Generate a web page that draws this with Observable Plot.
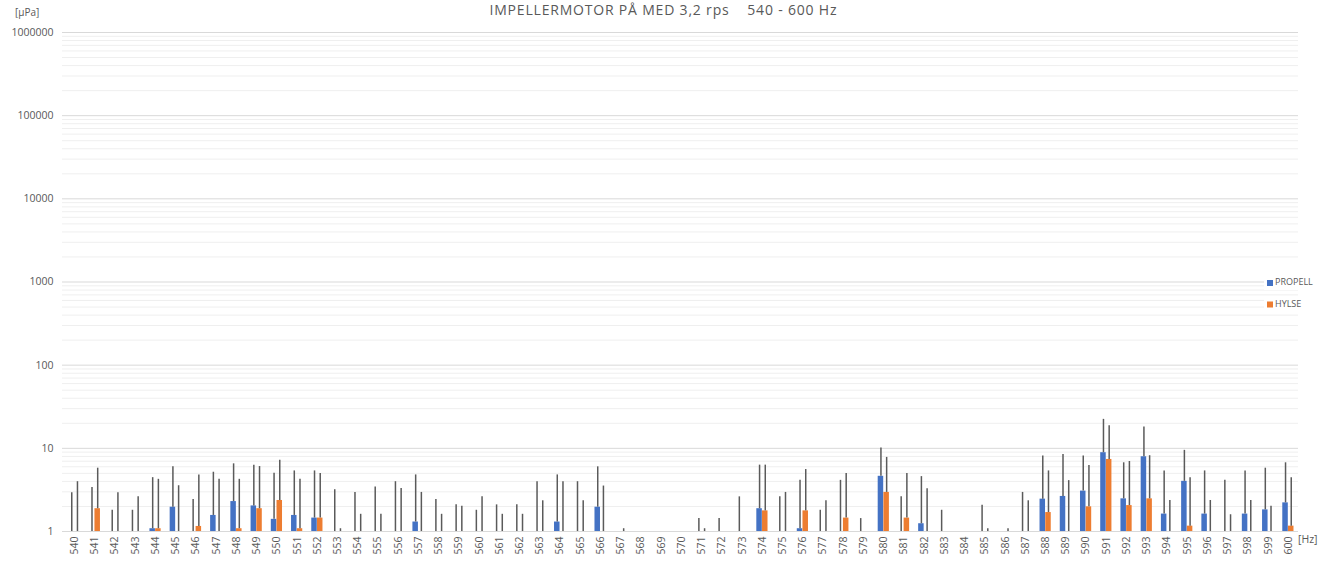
<!DOCTYPE html>
<html><head><meta charset="utf-8">
<script src="https://cdn.jsdelivr.net/npm/d3@7"></script>
<script src="https://cdn.jsdelivr.net/npm/@observablehq/plot@0.6"></script>
<style>body{margin:0;background:#fff}#chart{width:1335px;height:563px}</style>
</head><body><div id="chart"></div>
<script>
const freqs = [540,541,542,543,544,545,546,547,548,549,550,551,552,553,554,555,556,557,558,559,560,561,562,563,564,565,566,567,568,569,570,571,572,573,574,575,576,577,578,579,580,581,582,583,584,585,586,587,588,589,590,591,592,593,594,595,596,597,598,599,600];
// PROPELL bar values (null = no bar)
const propell = [null,null,null,null,1.08,1.96,null,1.56,2.29,2.03,1.40,1.56,1.45,null,null,null,null,1.30,null,null,null,null,null,null,1.30,null,1.96,null,null,null,null,null,null,null,1.88,null,1.08,null,null,null,4.61,null,1.24,null,null,null,null,null,2.45,2.64,3.06,8.86,2.47,7.92,1.62,4.01,1.62,null,1.62,1.82,2.21];
// PROPELL upper whisker values
const propellTop = [2.92,3.39,1.8,1.8,4.44,5.99,2.42,5.16,6.51,6.28,5.02,5.35,5.35,3.18,2.95,3.42,3.97,4.79,2.42,2.09,1.8,2.09,2.09,3.97,4.79,3.97,5.99,null,null,null,null,1.43,1.43,2.61,6.28,2.61,4.12,1.8,4.12,1.43,10.1,2.61,4.57,1.8,null,2.07,null,2.95,8.07,8.45,8.07,22.3,6.7,18.0,5.35,9.46,5.35,4.12,5.35,5.77,6.7];
// HYLSE bar values
const hylse = [null,1.88,null,null,1.08,null,1.15,null,1.08,1.88,2.36,1.08,1.45,null,null,null,null,null,null,null,null,null,null,null,null,null,null,null,null,null,null,null,null,null,1.77,null,1.77,null,1.45,null,2.95,1.45,null,null,null,null,null,null,1.69,null,1.98,7.35,2.05,2.47,null,1.16,null,null,null,null,1.16];
// HYLSE upper whisker values
const hylseTop = [3.97,5.77,2.92,2.61,4.24,3.55,4.79,4.24,4.24,6.04,7.21,4.24,4.97,1.08,1.61,1.61,3.30,2.95,1.61,2.01,2.61,1.61,1.61,2.34,3.97,2.34,3.52,1.08,null,null,null,1.08,null,null,6.28,2.95,5.56,2.34,4.97,null,7.78,4.97,3.27,null,null,1.08,1.08,2.34,5.35,4.09,6.22,18.7,6.95,8.15,2.36,4.44,2.36,1.59,2.36,2.01,4.44];
const yTicks = [1,10,100,1000,10000,100000,1000000];
const minorTicks = [2,3,4,5,6,7,8,9,20,30,40,50,60,70,80,90,200,300,400,500,600,700,800,900,2000,3000,4000,5000,6000,7000,8000,9000,20000,30000,40000,50000,60000,70000,80000,90000,200000,300000,400000,500000,600000,700000,800000,900000];
const seriesNames = ["PROPELL","HYLSE"];
const colors = ["#4472C4","#ED7D31"];

const W = 1335, H = 563, ML = 64, MR = 37, MT = 32, MB = 32;
const bw = (W - ML - MR) / freqs.length;
const rows = freqs.map((f, i) => ({f: String(f), p: propell[i], pt: propellTop[i], h: hylse[i], ht: hylseTop[i]}));

const chart = Plot.plot({
  width: W, height: H,
  marginLeft: ML, marginRight: MR, marginTop: MT, marginBottom: MB,
  style: {fontFamily: "'Open Sans', sans-serif", fontSize: "10.5px", color: "#595959", background: "#fff", overflow: "visible"},
  x: {type: "band", domain: freqs.map(String), padding: 0, round: false, label: null, tickSize: 0, tickRotate: -90, tickPadding: 5},
  y: {type: "log", domain: [1, 1e6], label: null, ticks: yTicks, tickFormat: d => String(d), tickSize: 0, tickPadding: 11},
  marks: [
    Plot.ruleY(minorTicks, {stroke: "#efefef", strokeWidth: 1, insetLeft: -2}),
    Plot.ruleY(yTicks, {stroke: "#d9d9d9", strokeWidth: 1, insetLeft: -2}),
    Plot.barY(rows.filter(d => d.p != null), {x: "f", y1: 1, y2: "p", fill: colors[0], insetLeft: bw/2 - 5.6, insetRight: bw/2 + 0.1}),
    Plot.barY(rows.filter(d => d.h != null), {x: "f", y1: 1, y2: "h", fill: colors[1], insetLeft: bw/2 + 0.1, insetRight: bw/2 - 5.6}),
    Plot.ruleX(rows.filter(d => d.pt != null), {x: "f", y1: d => d.p ?? 1, y2: "pt", stroke: "#5a5a5a", strokeWidth: 1.5, dx: -2.85}),
    Plot.ruleX(rows.filter(d => d.ht != null), {x: "f", y1: d => d.h ?? 1, y2: "ht", stroke: "#5a5a5a", strokeWidth: 1.5, dx: 2.85})
  ]
});
document.getElementById("chart").appendChild(chart);

const svg = d3.select(chart);
const txt = (x, y, s, size, anchor) => svg.append("text").attr("x", x).attr("y", y)
  .attr("font-family", "'Open Sans', sans-serif").attr("font-size", size).attr("fill", "#595959")
  .attr("text-anchor", anchor || "start").attr("dominant-baseline", "middle").text(s);
txt(663, 11, "IMPELLERMOTOR PÅ MED 3,2 rps    540 - 600 Hz", 14, "middle")
  .attr("xml:space", "preserve").style("white-space", "pre")
  .attr("textLength", 347).attr("lengthAdjust", "spacing");
txt(15, 13, "[µPa]", 10);
txt(1298, 540, "[Hz]", 10.5);
seriesNames.forEach((s, i) => {
  const y = 283 + i * 21.5;
  svg.append("rect").attr("x", 1264).attr("y", y - 7).attr("width", 58).attr("height", 14).attr("fill", "#fff");
  svg.append("rect").attr("x", 1267).attr("y", y - 3).attr("width", 6).attr("height", 6).attr("fill", colors[i]);
  txt(1275, y, s, 9);
});
</script></body></html>
